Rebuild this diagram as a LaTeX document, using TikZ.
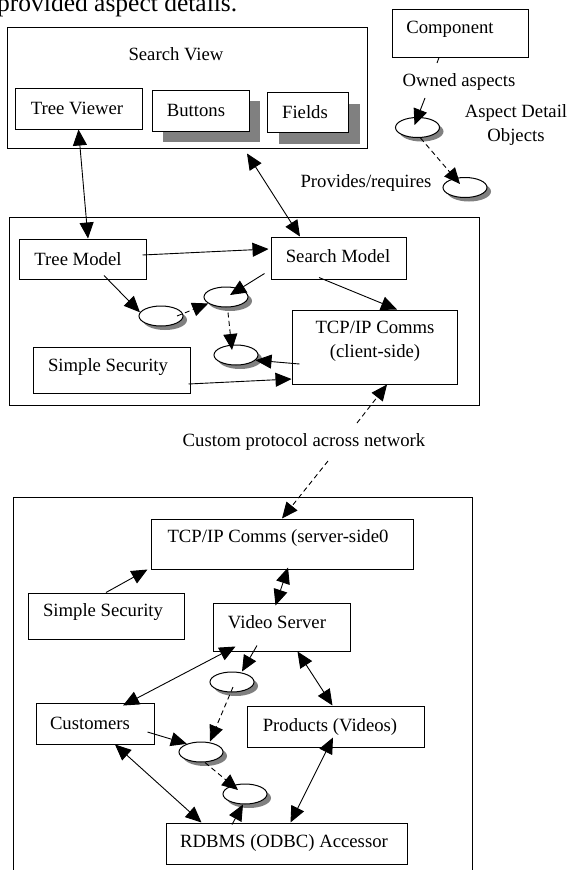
\documentclass[tikz,border=0pt]{standalone}
\usepackage{fontspec}
\setmainfont{Liberation Serif}
\usetikzlibrary{arrows.meta,shapes.geometric,shadows,calc}
\definecolor{shade}{HTML}{808080}
\tikzset{
  lbl/.style={inner sep=0pt, font=\fontsize{18.7}{24}\selectfont, align=center},
  box/.style={draw=black, line width=1pt, fill=white, inner sep=0pt},
  frame/.style={draw=black, line width=1pt, inner sep=0pt},
  sbox/.style={box, drop shadow={shadow xshift=11pt, shadow yshift=-11pt, opacity=1, fill=shade}},
  aspect/.style={ellipse, draw=black, line width=1pt, fill=white, inner sep=0pt,
     minimum width=44pt, minimum height=20pt,
     drop shadow={shadow xshift=4pt, shadow yshift=-4pt, opacity=1, fill=shade}},
  tip/.tip={Triangle[length=16pt,width=14pt]},
  arr/.style={line width=0.9pt, -tip},
  dbl/.style={line width=0.9pt, tip-tip},
  dsh/.style={arr, dash pattern=on 5pt off 3.5pt},
  plain/.style={line width=0.9pt}
}
\begin{document}
\begin{tikzpicture}[x=1pt,y=-1pt]
\clip (0,0) rectangle (567,870);
\fill[white] (0,0) rectangle (567,870);

% top partial text
\node[inner sep=0pt, anchor=base west, font=\fontsize{25.5}{30}\selectfont] (top) at (-3,12) {provided aspect details.};

% ---------- Search View ----------
\node[frame, minimum width=360pt, minimum height=121pt] (sv) at (187,87.5) {};
\node[lbl] (svt) at (176,54) {Search View};
\node[box, minimum width=127pt, minimum height=41pt] (tv) at (78.5,108.5) {};
\node[lbl] (tvt) at (77,108) {Tree Viewer};
\node[sbox, minimum width=97pt, minimum height=41pt] (bt) at (200.5,110.5) {};
\node[lbl] (btt) at (196,110) {Buttons};
\node[box, minimum width=81pt, minimum height=40pt,
      drop shadow={shadow xshift=12pt, shadow yshift=-12pt, opacity=1, fill=shade}] (fd) at (307.5,112) {};
\node[lbl] (fdt) at (305,112) {Fields};

% ---------- Legend ----------
\node[box, minimum width=136pt, minimum height=48pt] (comp) at (460,33) {};
\node[lbl] (compt) at (450,29) {Component};
\node[lbl] (owned) at (459,82) {Owned aspects};
\node[aspect] (L1) at (417.5,127.5) {};
\node[aspect] (L2) at (465,187.5) {};
\node[lbl] (adet) at (516,125) {Aspect Detail\\Objects};
\node[lbl] (prov) at (366,183) {Provides/requires};
\coordinate (c1) at (437,63);
\coordinate (c2) at (425,98);
\draw[plain] ([xshift=-21pt]comp.south) -- (c1);
\draw[arr] (c2) -- ([xshift=-3pt,yshift=2.5pt]L1.center);
\draw[dsh] ([xshift=3pt]L1.south) -- ([xshift=-5pt,yshift=3.5pt]L2.center);

% ---------- Client ----------
\node[frame, minimum width=470pt, minimum height=188pt] (cl) at (244,311) {};
\node[box, minimum width=127pt, minimum height=40pt] (tm) at (82.5,259) {};
\node[lbl] (tmt) at (78,259) {Tree Model};
\node[box, minimum width=135pt, minimum height=42pt] (sm) at (338.5,258) {};
\node[lbl] (smt) at (338,256) {Search Model};
\node[box, minimum width=165pt, minimum height=74pt] (tcpc) at (374.5,347) {};
\node[lbl] (tcpct) at (375,341) {TCP/IP Comms\\(client-side)};
\node[box, minimum width=157pt, minimum height=46pt] (ssc) at (111.5,370) {};
\node[lbl] (ssct) at (108,367) {Simple Security};
\node[aspect] (Ea) at (161,316) {};
\node[aspect] (Eb) at (226,297) {};
\node[aspect] (Ec) at (236,355) {};

\draw[dbl] (tv.south) -- ([xshift=5.5pt]tm.north);
\draw[dbl] ([xshift=60pt,yshift=-5pt]sv.south) -- ([xshift=-38.5pt]sm.north);
\draw[arr] ([xshift=-4pt,yshift=4pt]tm.east) -- ([xshift=-2pt,yshift=9pt]sm.west);
\draw[arr] ([xshift=21.5pt,yshift=4pt]tm.south) -- (Ea.170);
\draw[dsh] ([xshift=16pt]Ea.center) -- (Eb.200);
\draw[arr] ([xshift=-6pt,yshift=6pt]sm.south west) -- ([xshift=4pt,yshift=2pt]Eb.center);
\draw[dsh] ([xshift=2pt,yshift=-5pt]Eb.south) -- ([xshift=-4pt,yshift=5pt]Ec.center);
\draw[arr] ([xshift=8pt,yshift=-17pt]tcpc.west) -- (Ec.-15);
\draw[arr] ([xshift=-2pt,yshift=-14pt]ssc.east) -- ([yshift=-32pt]tcpc.west);
\draw[arr] ([xshift=-19.5pt,yshift=2pt]sm.south) -- ([xshift=22.5pt]tcpc.north);

% ---------- Network ----------
\node[lbl] (net) at (304,442) {Custom protocol across network};
\coordinate (n1) at (357,423);
\coordinate (n2) at (328,461);

% ---------- Server ----------
\node[frame, minimum width=459pt, minimum height=403pt] (sb) at (242.5,698.5) {};
\node[box, minimum width=262pt, minimum height=50pt] (tcps) at (282,544) {};
\node[lbl] (tcpst) at (278,538) {TCP/IP Comms (server-side0};
\node[box, minimum width=156pt, minimum height=46pt] (sss) at (106,616) {};
\node[lbl] (ssst) at (103,612) {Simple Security};
\node[box, minimum width=137pt, minimum height=48pt] (vs) at (281.5,627) {};
\node[lbl] (vst) at (277,622) {Video Server};
\node[box, minimum width=118pt, minimum height=41pt] (cu) at (95,723.5) {};
\node[lbl] (cut) at (90,723) {Customers};
\node[box, minimum width=177pt, minimum height=41pt] (pr) at (335.5,726.5) {};
\node[lbl] (prt) at (330,727) {Products (Videos)};
\node[box, minimum width=241pt, minimum height=41pt] (rd) at (286.5,843.5) {};
\node[lbl] (rdt) at (284,843) {RDBMS (ODBC) Accessor};
\node[aspect] (S1) at (232,682) {};
\node[aspect] (S2) at (201,752) {};
\node[aspect] (S3) at (245,794) {};

\draw[dsh] (n1) -- ([xshift=12.5pt]tcpc.south);
\draw[dsh] (n2) -- (tcps.north);

\draw[arr] (sss.north) -- ([xshift=-3pt]tcps.south west);
\draw[dbl] ([xshift=6pt,yshift=2pt]tcps.south) -- ([xshift=-6pt,yshift=-3pt]vs.north);
\draw[arr] ([xshift=-24.5pt,yshift=6pt]vs.south) -- ([xshift=10pt]S1.north);
\draw[dbl] ([xshift=23pt,yshift=5pt]vs.south west) -- ([xshift=28pt,yshift=-3pt]cu.north);
\draw[dbl] ([xshift=16pt]vs.south) -- ([xshift=-3pt]pr.north);
\draw[dsh] ([xshift=1pt,yshift=-5pt]S1.center) -- ([xshift=9pt]S2.north);
\draw[arr] ([xshift=-7pt,yshift=-8.5pt]cu.east) -- (S2.150);
\draw[dsh] ([xshift=4pt]S2.south) -- ([xshift=-7pt,yshift=4pt]S3.center);
\draw[arr] ([xshift=-54.5pt,yshift=-2pt]rd.north) -- ([xshift=-2pt]S3.south);
\draw[dbl] ([xshift=20pt]cu.south) -- ([xshift=-85pt]rd.north);
\draw[dbl] ([xshift=-2.5pt,yshift=10pt]pr.south) -- ([xshift=4pt]rd.north);
\end{tikzpicture}
\end{document}
